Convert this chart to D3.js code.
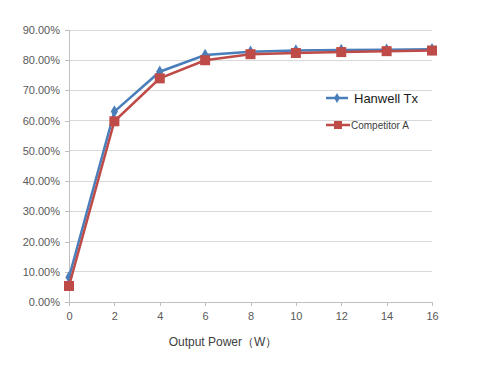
<!DOCTYPE html>
<html><head><meta charset="utf-8">
<script src="https://cdn.jsdelivr.net/npm/d3@7"></script>
<style>body{margin:0;background:#fff}svg{display:block}</style>
</head><body>
<script>
const power = [0, 2, 4, 6, 8, 10, 12, 14, 16];
const hanwell = [8.2, 63, 76.2, 81.7, 82.8, 83.2, 83.4, 83.5, 83.6];
const competitor = [5.3, 59.8, 74, 80, 82, 82.4, 82.7, 83, 83.2];
const yTicks = [0, 10, 20, 30, 40, 50, 60, 70, 80, 90];
const seriesNames = ["Hanwell Tx", "Competitor A"];
const xTitle = "Output Power（W）";

const W = 487, H = 370;
const svg = d3.select("body").append("svg").attr("width", W).attr("height", H);
const x = d3.scaleLinear().domain([0, 16]).range([69, 432]);
const y = d3.scaleLinear().domain([0, 90]).range([302, 30]);
const font = "'Liberation Sans', Arial, sans-serif";

svg.append("g").selectAll("line").data(yTicks.filter(d => d > 0)).join("line")
  .attr("x1", x(0)).attr("x2", x(16)).attr("y1", d => y(d)).attr("y2", d => y(d))
  .attr("stroke", "#d9d9d9").attr("stroke-width", 1).attr("shape-rendering", "crispEdges");

const yAxis = svg.append("g").attr("transform", `translate(${x(0)},0)`)
  .call(d3.axisLeft(y).tickValues(yTicks).tickSize(4).tickPadding(5).tickFormat(d => d.toFixed(2) + "%"));
const xAxis = svg.append("g").attr("transform", `translate(0,${y(0)})`)
  .call(d3.axisBottom(x).tickValues(power).tickSize(4).tickPadding(6));
[yAxis, xAxis].forEach(a => {
  a.selectAll("path,line").attr("stroke", "#bfbfbf").attr("shape-rendering", "crispEdges");
  a.selectAll("text").attr("fill", "#595959").style("font-family", font).style("font-size", "11px");
});

const line = d3.line().x((d, i) => x(power[i])).y(d => y(d));
const colors = ["#4a7ebb", "#be4b48"];

svg.append("path").datum(hanwell).attr("d", line).attr("fill", "none")
  .attr("stroke", colors[0]).attr("stroke-width", 2.5);
svg.append("g").selectAll("path").data(hanwell).join("path")
  .attr("transform", (d, i) => `translate(${x(power[i])},${y(d)})`)
  .attr("d", d3.symbol(d3.symbolDiamond, 45)).attr("fill", colors[0]);

svg.append("path").datum(competitor).attr("d", line).attr("fill", "none")
  .attr("stroke", colors[1]).attr("stroke-width", 2.5);
svg.append("g").selectAll("rect").data(competitor).join("rect")
  .attr("x", (d, i) => x(power[i]) - 5).attr("y", d => y(d) - 5)
  .attr("width", 10).attr("height", 10).attr("fill", colors[1]);

const lg = svg.append("g");
lg.append("line").attr("x1", 326).attr("x2", 348).attr("y1", 98).attr("y2", 98)
  .attr("stroke", colors[0]).attr("stroke-width", 2.5);
lg.append("path").attr("transform", "translate(337,98)").attr("d", d3.symbol(d3.symbolDiamond, 30)).attr("fill", colors[0]);
lg.append("text").attr("x", 354).attr("y", 103).text(seriesNames[0])
  .style("font-family", font).style("font-size", "13px").attr("fill", "#1a1a1a");
lg.append("line").attr("x1", 326).attr("x2", 350).attr("y1", 125).attr("y2", 125)
  .attr("stroke", colors[1]).attr("stroke-width", 2.5);
lg.append("rect").attr("x", 334).attr("y", 121).attr("width", 8).attr("height", 8).attr("fill", colors[1]);
lg.append("text").attr("x", 351).attr("y", 129).text(seriesNames[1])
  .style("font-family", font).style("font-size", "10px").attr("fill", "#404040");

svg.append("text").attr("x", 223).attr("y", 346).attr("text-anchor", "middle").text(xTitle)
  .style("font-family", font).style("font-size", "12px").attr("fill", "#404040");
</script>
</body></html>
